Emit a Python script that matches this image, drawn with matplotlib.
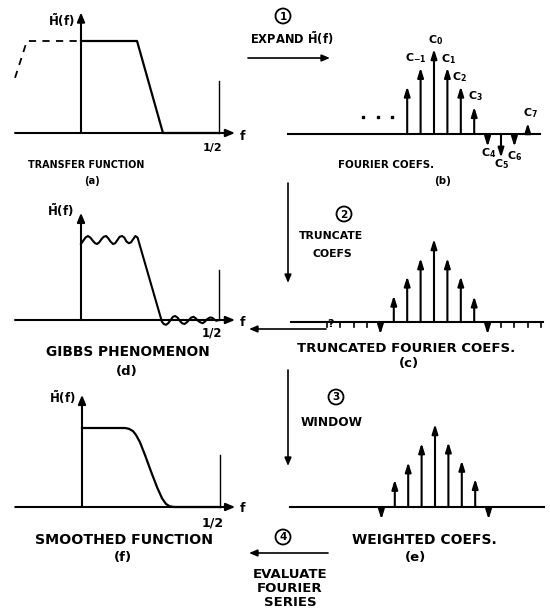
import matplotlib
matplotlib.use('Agg')
import matplotlib.pyplot as plt
from matplotlib.patches import Circle

W, H = 550, 609
plt.rcParams['font.family'] = ['DejaVu Sans']
plt.rcParams['font.weight'] = 'bold'
plt.rcParams['mathtext.fontset'] = 'custom'
plt.rcParams['mathtext.rm'] = 'DejaVu Sans:bold'
plt.rcParams['mathtext.it'] = 'DejaVu Sans:bold'
plt.rcParams['mathtext.bf'] = 'DejaVu Sans:bold'

# ---------------- data ----------------
# (a) ideal transfer function
ideal_f = [0.0, 0.203, 0.297, 0.5]
ideal_h = [1.0, 1.0, 0.0, 0.0]
ideal_ext_f = [-0.239, -0.196, 0.0]      # dashed periodic extension
ideal_ext_h = [0.6, 1.0, 1.0]

# (b) Fourier coefficients c_n
coef_n = [-2, -1, 0, 1, 2, 3, 4, 5, 6, 7]
coef_v = [0.56, 0.78, 1.0, 0.78, 0.56, 0.32, -0.15, -0.28, -0.15, 0.13]
dots_n = [-5.3, -4.2, -3.1]
dots_v = [0.2, 0.2, 0.2]

# (c) truncated coefficients
trunc_n = [-4, -3, -2, -1, 0, 1, 2, 3, 4]
trunc_v = [-0.15, 0.32, 0.55, 0.77, 1.0, 0.77, 0.55, 0.31, -0.15]
zero_n = [-8, -7, -6, -5, 5, 6, 7, 8]

# (e) weighted coefficients
weight_n = [-4, -3, -2, -1, 0, 1, 2, 3, 4]
weight_v = [-0.15, 0.33, 0.54, 0.77, 1.0, 0.78, 0.56, 0.34, -0.15]

# (d) Gibbs phenomenon
gibbs_f = [0.0, 0.008, 0.016, 0.025, 0.034, 0.043, 0.051, 0.058, 0.066, 0.074, 0.082,
           0.091, 0.099, 0.107, 0.116, 0.124, 0.132, 0.140, 0.149, 0.157, 0.165,
           0.173, 0.181, 0.189, 0.197, 0.205,
           0.293, 0.300, 0.308, 0.316, 0.325, 0.333, 0.341, 0.350, 0.358, 0.366,
           0.375, 0.383, 0.391, 0.399, 0.408, 0.416, 0.424, 0.433, 0.441, 0.449,
           0.457, 0.466, 0.474, 0.482, 0.490, 0.500]
gibbs_h = [0.95, 0.99, 1.03, 1.05, 1.03, 0.99, 0.96, 0.95, 0.97, 1.01, 1.04,
           1.05, 1.02, 0.98, 0.95, 0.96, 1.00, 1.04, 1.05, 1.03, 0.98,
           0.96, 0.97, 1.01, 1.05, 1.03,
           -0.02, -0.05, -0.06, -0.04, 0.0, 0.04, 0.05, 0.03, -0.01, -0.04,
           -0.05, -0.03, 0.0, 0.03, 0.04, 0.02, -0.01, -0.03, -0.04, -0.02,
           0.01, 0.03, 0.03, 0.01, -0.01, 0.0]

# (f) smoothed function
smooth_f = [0.0, 0.156, 0.170, 0.185, 0.196, 0.210, 0.228, 0.250, 0.272, 0.290, 0.304, 0.317, 0.333, 0.5]
smooth_h = [1.0, 1.0, 0.99, 0.96, 0.91, 0.82, 0.66, 0.45, 0.25, 0.11, 0.04, 0.01, 0.0, 0.0]

# ---------------- figure ----------------
fig = plt.figure(figsize=(W / 100, H / 100), dpi=100)
ax0 = fig.add_axes([0, 0, 1, 1])
ax0.set_xlim(0, W)
ax0.set_ylim(H, 0)
ax0.axis('off')


def panel(ox, oy, sx, sy):
    ax = fig.add_axes([0, 0, 1, 1], facecolor='none')
    ax.set_xlim(-ox / sx, (W - ox) / sx)
    ax.set_ylim((oy - H) / sy, oy / sy)
    ax.axis('off')
    return ax


def arrow(ax, x0, y0, x1, y1, lw=1.5, ms=9, hl=0.6, hw=0.25):
    ax.annotate('', xy=(x1, y1), xytext=(x0, y0),
                arrowprops=dict(arrowstyle='-|>,head_length=%g,head_width=%g' % (hl, hw),
                                lw=lw, color='k', shrinkA=0, shrinkB=0,
                                mutation_scale=ms))


def func_axes(ax, xmin, xmax, ytop, half_h):
    arrow(ax, xmin, 0, xmax, 0)
    arrow(ax, 0, 0, 0, ytop)
    ax.plot([0.5, 0.5], [0, half_h], color='k', lw=1.0)


def stems(ax, ns, vs):
    for n, v in zip(ns, vs):
        arrow(ax, n, 0, n, v, lw=1.5, ms=8, hl=0.7, hw=0.22)


# ---- (a) transfer function
axa = panel(81, 133, 276, 92)
func_axes(axa, -0.239, 0.558, 1.31, 0.565)
axa.plot(ideal_f, ideal_h, color='k', lw=1.6)
axa.plot(ideal_ext_f, ideal_ext_h, color='k', lw=1.3, linestyle=(0, (4, 3.5)))

# ---- (d) Gibbs
axd = panel(81, 320, 276, 80)
func_axes(axd, -0.239, 0.558, 1.34, 0.625)
axd.plot(gibbs_f, gibbs_h, color='k', lw=1.5)

# ---- (f) smoothed
axf = panel(82, 507, 276, 79)
func_axes(axf, -0.242, 0.555, 1.42, 0.66)
axf.plot(smooth_f, smooth_h, color='k', lw=1.6)

# ---- (b) Fourier coefs
axb = panel(434, 134, 13.4, 85)
axb.plot([-10.9, 7.9], [0, 0], color='k', lw=1.5)
stems(axb, coef_n, coef_v)
axb.plot(dots_n, dots_v, 's', color='k', ms=2.0)

# ---- (c) truncated
axc = panel(434, 322, 13.4, 83)
axc.plot([-10.7, 8.1], [0, 0], color='k', lw=1.5)
stems(axc, trunc_n, trunc_v)
for n in zero_n:
    axc.plot([n, n], [0, -0.055], color='k', lw=1.2)

# ---- (e) weighted
axe = panel(435, 507, 13.4, 83)
axe.plot([-10.8, 8.1], [0, 0], color='k', lw=1.5)
stems(axe, weight_n, weight_v)

# ---------------- text ----------------
def txt(x, y, s, size):
    ax0.text(x, y, s, fontsize=size, ha='center', va='center', fontweight='bold')


Hlab = r'$\tilde{\mathrm{H}}\mathrm{(f)}$'

txt(61, 20, Hlab, 8.5)
txt(242, 136, 'f', 9)
txt(213, 148, '1/2', 8)
txt(86, 165, 'TRANSFER FUNCTION', 6.9)
txt(92, 181, '(a)', 7.2)

txt(386, 165, 'FOURIER COEFS.', 7.4)
txt(443, 181, '(b)', 7.4)
clabels = [('C$_0$', 436, 40), ('C$_{-1}$', 416, 58), ('C$_1$', 449, 59),
           ('C$_2$', 460, 77), ('C$_3$', 475, 96), ('C$_7$', 531, 113),
           ('C$_4$', 489, 153), ('C$_5$', 502, 164), ('C$_6$', 515, 156)]
for s, x, y in clabels:
    txt(x, y, s, 8)

txt(60, 210, Hlab, 8.5)
txt(242, 322, 'f', 9)
txt(212, 333, '1/2', 8.5)
txt(128, 352, 'GIBBS PHENOMENON', 9.9)
txt(127, 371, '(d)', 9.5)

txt(406, 348, 'TRUNCATED FOURIER COEFS.', 9.5)
txt(409, 364, '(c)', 9.5)

txt(62, 397, Hlab, 8.5)
txt(243, 508, 'f', 9)
txt(213, 523, '1/2', 9)
txt(124, 540, 'SMOOTHED FUNCTION', 10.2)
txt(123, 557, '(f)', 9.5)

txt(424, 540, 'WEIGHTED COEFS.', 10)
txt(415, 557, '(e)', 9.5)


def circled(x, y, s):
    ax0.add_patch(Circle((x, y), 7.5, fill=False, lw=1.3, color='k'))
    txt(x, y + 0.5, s, 7.5)


# process arrows
circled(283, 16, '1')
txt(292, 38, r'EXPAND $\tilde{\mathrm{H}}\mathrm{(f)}$', 8.3)
arrow(ax0, 248, 58, 330, 58, lw=1.2, ms=8)

arrow(ax0, 288, 183, 288, 283, lw=1.2, ms=8)
circled(344, 214, '2')
txt(331, 236, 'TRUNCATE', 7.8)
txt(332, 254, 'COEFS', 7.8)

arrow(ax0, 326, 329, 249, 329, lw=1.2, ms=8)
txt(331, 324, '?', 8)

arrow(ax0, 288, 370, 288, 466, lw=1.2, ms=8)
circled(336, 397, '3')
txt(332, 423, 'WINDOW', 8.7)

circled(283, 537, '4')
arrow(ax0, 328, 553, 249, 553, lw=1.2, ms=8)
txt(290, 575, 'EVALUATE', 9.5)
txt(290, 589, 'FOURIER', 9.5)
txt(290, 603, 'SERIES', 9.5)

fig.savefig('out.png', dpi=100)
